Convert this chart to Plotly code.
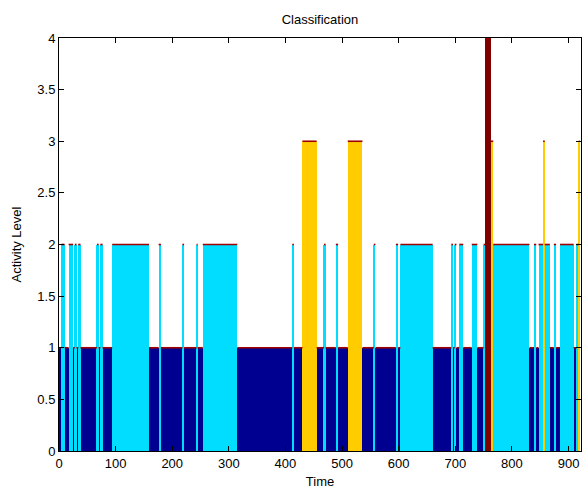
import plotly.graph_objects as go

# Run-length encoded classification: each run starts at run_starts[i] with level run_levels[i]
run_starts = [0, 4, 10, 17, 25, 28, 31, 34, 38, 67, 70, 73, 77, 94, 159, 176, 180, 218, 221,
              243, 245, 254, 315, 412, 415, 430, 455, 468, 471, 489, 493, 510, 536, 556, 559,
              595, 599, 603, 660, 693, 696, 699, 702, 707, 714, 729, 739, 750, 753, 763, 767,
              831, 839, 843, 847, 855, 858, 867, 874, 878, 885, 909, 914, 918]
run_levels = [1, 2, 1, 2, 1, 2, 1, 2, 1, 2, 1, 2, 1, 2, 1, 2, 1, 2, 1,
              2, 1, 2, 1, 2, 1, 3, 1, 2, 1, 2, 1, 3, 1, 2, 1,
              2, 1, 2, 1, 2, 1, 2, 1, 2, 1, 2, 1, 2, 4, 3, 2,
              1, 2, 1, 2, 3, 2, 1, 2, 1, 2, 1, 2, 3]
end_time = 920

level_colors = {1: "#000090", 2: "#00DDFF", 3: "#FFCC00", 4: "#800000"}
x_ticks = [0, 100, 200, 300, 400, 500, 600, 700, 800, 900]
y_ticks = [0, 0.5, 1, 1.5, 2, 2.5, 3, 3.5, 4]
y_tick_text = ["0", "0.5", "1", "1.5", "2", "2.5", "3", "3.5", "4"]

run_ends = run_starts[1:] + [end_time]

fig = go.Figure()
for lvl in [1, 2, 3, 4]:
    xs, ws, ys = [], [], []
    for s, e, l in zip(run_starts, run_ends, run_levels):
        if l == lvl:
            xs.append(s)
            ws.append(e - s)
            ys.append(l)
    fig.add_trace(go.Bar(x=xs, y=ys, width=ws, offset=0,
                         marker=dict(color=level_colors[lvl], line=dict(width=0)),
                         showlegend=False, hoverinfo="x+y"))

# dark red line on top of each run
lx, ly = [], []
for s, e, l in zip(run_starts, run_ends, run_levels):
    lx += [s, e, None]
    ly += [l, l, None]
fig.add_trace(go.Scatter(x=lx, y=ly, mode="lines", line=dict(color="#A00000", width=1.6),
                         showlegend=False, hoverinfo="skip"))

font = "Liberation Sans, Arial, Helvetica, sans-serif"
fig.update_layout(
    width=582, height=491,
    margin=dict(l=59, r=1, t=38, b=40),
    plot_bgcolor="white", paper_bgcolor="white",
    barmode="overlay", bargap=0,
    font=dict(family=font, size=13, color="black"),
    title=dict(text="Classification", x=0.5, xref="paper", xanchor="center",
               y=1 - 19 / 491, yref="container", yanchor="middle",
               font=dict(family=font, size=13, color="black")),
    xaxis=dict(range=[0, 922], tickmode="array", tickvals=x_ticks,
               showgrid=False, zeroline=False, showline=True, linecolor="black", linewidth=1,
               mirror="ticks", ticks="inside", ticklen=5, tickcolor="black",
               tickfont=dict(size=13),
               title=dict(text="Time", standoff=7, font=dict(size=13))),
    yaxis=dict(range=[0, 4], tickmode="array", tickvals=y_ticks, ticktext=y_tick_text,
               showgrid=False, zeroline=False, showline=True, linecolor="black", linewidth=1,
               mirror="ticks", ticks="inside", ticklen=5, tickcolor="black",
               tickfont=dict(size=13),
               title=dict(text="Activity Level", standoff=12, font=dict(size=13))),
)

fig.write_html("out.html")
